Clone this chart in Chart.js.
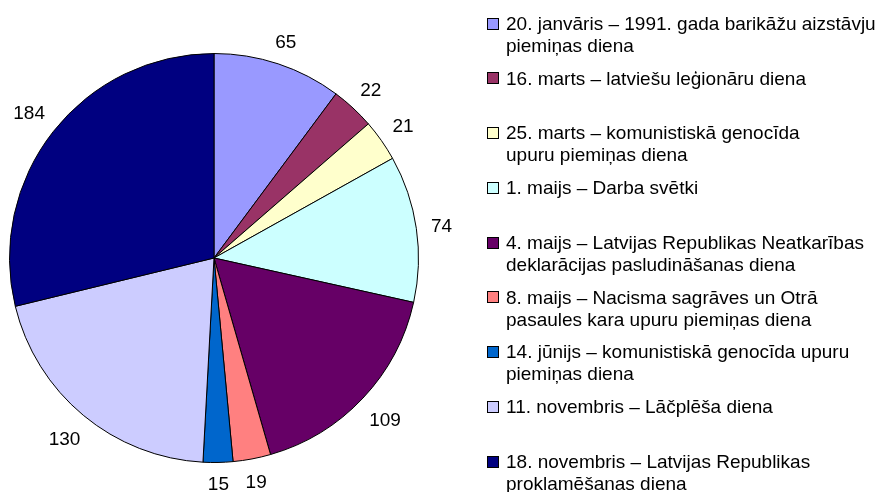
<!DOCTYPE html>
<html>
<head>
<meta charset="utf-8">
<script src="https://cdn.jsdelivr.net/npm/chart.js@4/dist/chart.umd.min.js"></script>
<style>
  html, body { margin: 0; padding: 0; background: #ffffff; }
  #wrap { width: 880px; height: 492px; position: relative; }
</style>
</head>
<body>
<div id="wrap"><canvas id="c" width="880" height="492"></canvas></div>
<script>
// ---- data ----
const categories = [
  ["20. janvāris – 1991. gada barikāžu aizstāvju", "piemiņas diena"],
  ["16. marts – latviešu leģionāru diena"],
  ["25. marts – komunistiskā genocīda", "upuru piemiņas diena"],
  ["1. maijs – Darba svētki"],
  ["4. maijs – Latvijas Republikas Neatkarības", "deklarācijas pasludināšanas diena"],
  ["8. maijs – Nacisma sagrāves un Otrā", "pasaules kara upuru piemiņas diena"],
  ["14. jūnijs – komunistiskā genocīda upuru", "piemiņas diena"],
  ["11. novembris – Lāčplēša diena"],
  ["18. novembris – Latvijas Republikas", "proklamēšanas diena"]
];
const values = [65, 22, 21, 74, 109, 19, 15, 130, 184];
const colors = ["#9999FF", "#993366", "#FFFFCC", "#CCFFFF", "#660066", "#FF8080", "#0066CC", "#CCCCFF", "#000080"];

const FONT = '19px "Liberation Sans", Arial, Helvetica, sans-serif';

// value labels outside the slices
const outsideLabels = {
  id: 'outsideLabels',
  afterDatasetsDraw(chart) {
    const ctx = chart.ctx;
    const meta = chart.getDatasetMeta(0);
    ctx.save();
    ctx.font = FONT;
    ctx.fillStyle = '#000000';
    ctx.textAlign = 'center';
    ctx.textBaseline = 'alphabetic';
    const capH = 13.6;
    meta.data.forEach((arc, i) => {
      const p = arc.getProps(['x', 'y', 'startAngle', 'endAngle', 'outerRadius'], true);
      const a = (p.startAngle + p.endAngle) / 2;
      const txt = String(values[i]);
      const w = ctx.measureText(txt).width;
      const c = Math.cos(a), s = Math.sin(a);
      const d = p.outerRadius + 14 + Math.abs(w / 2 * c) + Math.abs(capH / 2 * s);
      const cx = p.x + d * c;
      const cy = p.y + d * s;
      ctx.fillText(txt, cx, cy + capH / 2);
    });
    ctx.restore();
  }
};

// legend on the right
const sideLegend = {
  id: 'sideLegend',
  afterDraw(chart) {
    const ctx = chart.ctx;
    ctx.save();
    ctx.font = FONT;
    ctx.textAlign = 'left';
    ctx.textBaseline = 'alphabetic';
    const x0 = 487, box = 11, textX = 506;
    const top = 23, step = 54.75, lineH = 22, capH = 13.6;
    categories.forEach((lines, i) => {
      const cy = top + step * i;
      ctx.fillStyle = colors[i];
      ctx.fillRect(x0 + 0.5, Math.round(cy - box / 2) + 0.5, box, box);
      ctx.strokeStyle = '#000000';
      ctx.lineWidth = 1;
      ctx.strokeRect(x0 + 0.5, Math.round(cy - box / 2) + 0.5, box, box);
      ctx.fillStyle = '#000000';
      lines.forEach((ln, j) => {
        ctx.fillText(ln, textX, cy + capH / 2 + j * lineH);
      });
    });
    ctx.restore();
  }
};

new Chart(document.getElementById('c'), {
  type: 'pie',
  data: {
    labels: categories,
    datasets: [{
      data: values,
      backgroundColor: colors,
      borderColor: '#000000',
      borderWidth: 1
    }]
  },
  options: {
    responsive: false,
    animation: false,
    devicePixelRatio: 1,
    layout: { padding: { left: 9, top: 53, right: 461, bottom: 29 } },
    plugins: {
      legend: { display: false },
      tooltip: { enabled: false },
      title: { display: false }
    }
  },
  plugins: [outsideLabels, sideLegend]
});
</script>
</body>
</html>
